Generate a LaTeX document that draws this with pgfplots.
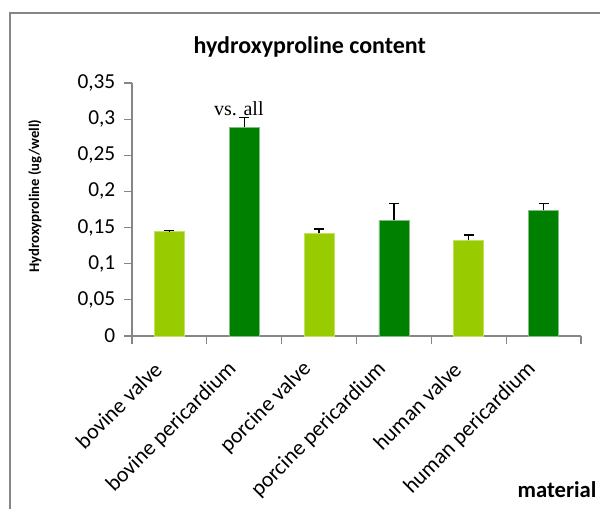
\documentclass[border=0pt]{standalone}
\usepackage{pgfplots}
\pgfplotsset{compat=1.18}
\usepackage{fontspec}
\setmainfont{Carlito}
\newfontfamily\timesfont{Liberation Serif}
\definecolor{lightg}{HTML}{99CC00}
\definecolor{darkg}{HTML}{008000}
\definecolor{axgray}{HTML}{868686}
\begin{document}
\begin{tikzpicture}
\draw[axgray, line width=0.9pt] (400pt,242.25pt) -- (-91.5pt,242.25pt) -- (-91.5pt,-140pt);
\begin{axis}[
  at={(0,0)}, anchor=south west,
  scale only axis, width=336.75pt, height=189.75pt,
  xmin=-0.5, xmax=5.5, ymin=0, ymax=0.35,
  axis x line*=bottom, axis y line*=left,
  axis line style={axgray, line width=0.8pt, -},
  xtick pos=bottom, ytick pos=left,
  xtick align=outside, ytick align=outside,
  major tick length=6pt,
  every tick/.style={axgray, line width=0.8pt},
  ytick={0,0.05,0.1,0.15,0.2,0.25,0.3,0.35},
  /pgf/number format/assume math mode=true,
  /pgf/number format/use comma, /pgf/number format/fixed,
  yticklabel style={font=\fontsize{16}{18}\selectfont, xshift=-3pt},
  xtick={-0.5,0.5,1.5,2.5,3.5,4.5,5.5},
  xticklabels={bovine valve, bovine pericardium, porcine valve, porcine pericardium, human valve, human pericardium, {}},
  xticklabel style={font=\fontsize{16.5}{18}\selectfont, xshift=22pt, yshift=-14pt, rotate=45, anchor=east},
  ylabel={\bfseries Hydroxyproline (ug/well)},
  ylabel style={font=\fontsize{11}{12}\selectfont, at={(axis description cs:-0.216,0.553)}, anchor=center},
  title={\bfseries hydroxyproline content},
  title style={font=\fontsize{18}{20}\selectfont, at={(axis description cs:0.396,1.11)}, anchor=center},
  ybar, bar width=22.5pt,
  error bars/y dir=plus, error bars/y explicit,
  error bars/error bar style={black, line width=0.9pt},
  error bars/error mark options={black, line width=0.9pt, mark size=3.75pt, rotate=90},
  clip=false,
]
\addplot[fill=lightg, draw=lightg!60!white, line width=0.5pt, bar shift=0pt] table[x=x, y=y, y error=e] {
x y e
0 0.1443 0.0017
2 0.1420 0.0060
4 0.1323 0.0074
};
\addplot[fill=darkg, draw=darkg!50!white, line width=0.5pt, bar shift=0pt] table[x=x, y=y, y error=e] {
x y e
1 0.2887 0.0138
3 0.1600 0.0235
5 0.1738 0.0097
};
\node[font=\timesfont\fontsize{15}{16}\selectfont] at (axis description cs:0.238,0.90) {vs. all};
\node[font=\bfseries\fontsize{17}{18}\selectfont] at (axis description cs:0.9465,-0.609) {material};
\end{axis}
\pgfresetboundingbox
\path[use as bounding box] (-99pt,-129pt) rectangle (351pt,252pt);
\end{tikzpicture}
\end{document}
